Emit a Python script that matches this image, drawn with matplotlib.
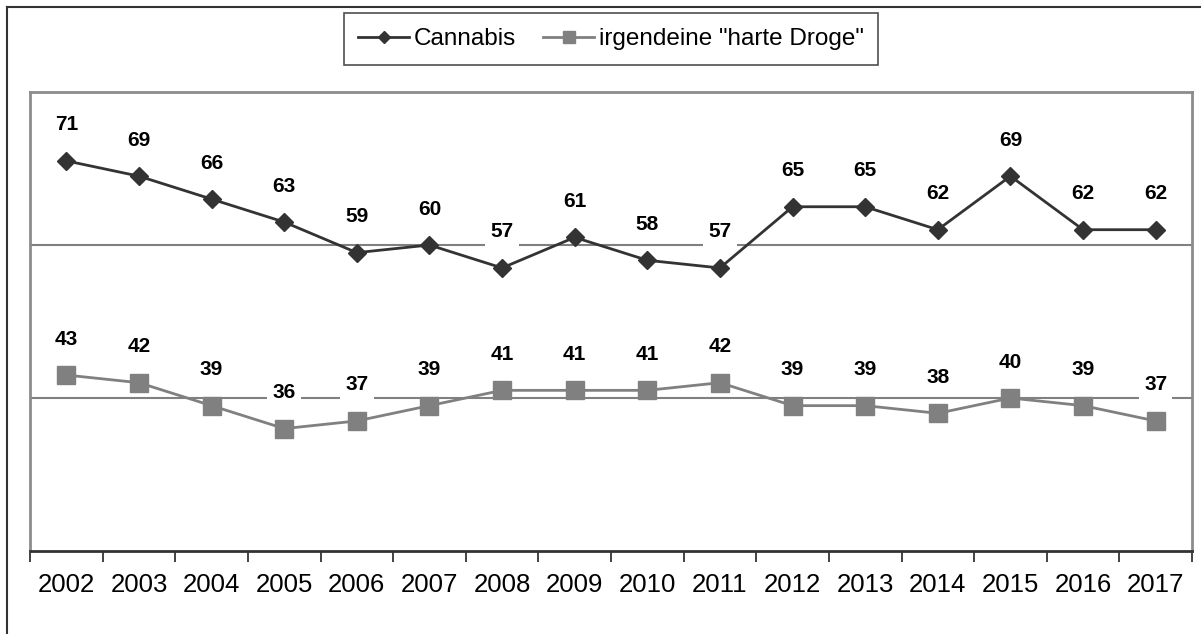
import matplotlib.pyplot as plt
from matplotlib.lines import Line2D

plt.rcParams.update({"font.family": ["Liberation Sans", "DejaVu Sans"]})

years = [str(y) for y in range(2002, 2018)]
cannabis = [71, 69, 66, 63, 59, 60, 57, 61, 58, 57, 65, 65, 62, 69, 62, 62]
harte_droge = [43, 42, 39, 36, 37, 39, 41, 41, 41, 42, 39, 39, 38, 40, 39, 37]

W, H = 1201, 634
fig = plt.figure(figsize=(W / 100, H / 100), dpi=100)
ax = fig.add_axes([30 / W, 1 - 551 / H, (1192 - 30) / W, (551 - 92) / H])

x = list(range(len(years)))

ax.plot(x, cannabis, color="#333333", linewidth=2, marker="D", markersize=9.5,
        label="Cannabis", zorder=4)
ax.plot(x, harte_droge, color="#808080", linewidth=2, marker="s", markersize=13.5,
        label='irgendeine "harte Droge"', zorder=4)

# value labels sit on white boxes that cut the gridlines
for series in (cannabis, harte_droge):
    for xi, v in zip(x, series):
        ax.annotate(str(v), (xi, v), xytext=(0, 36), textcoords="offset pixels",
                    ha="center", va="center", fontsize=15, fontweight="bold",
                    bbox=dict(boxstyle="square,pad=0.25", fc="white", ec="none"),
                    zorder=5)

ax.set_xlim(-0.5, len(years) - 0.5)
ax.set_ylim(20, 80)

for g in (40, 60):
    ax.axhline(g, color="#808080", linewidth=1.5, zorder=1)

ax.set_yticks([])
ax.set_xticks(x)
ax.set_xticklabels(years, fontsize=18.5)
ax.tick_params(axis="x", which="major", length=0, pad=16)
ax.set_xticks([i - 0.5 for i in range(len(years) + 1)], minor=True)
ax.tick_params(axis="x", which="minor", length=8, width=1.2, color="#222222",
               direction="out")

for side in ("left", "top", "right"):
    ax.spines[side].set_color("#8c8c8c")
    ax.spines[side].set_linewidth(2)
ax.spines["bottom"].set_color("#333333")
ax.spines["bottom"].set_linewidth(2)

leg = fig.legend(loc="center", bbox_to_anchor=(611 / W, 1 - 39 / H), ncol=2,
                 fontsize=17.5, frameon=True, fancybox=False, handlelength=2.1,
                 handletextpad=0.2, columnspacing=1.1, borderpad=0.6,
                 markerscale=0.65)
leg.get_frame().set_edgecolor("#222222")
leg.get_frame().set_linewidth(1.2)

# outer chart border (left and top edges only reach inside the image)
fig.add_artist(Line2D([7 / W, 7 / W], [1 - 7 / H, -0.1], color="#333333",
                      linewidth=1.5, transform=fig.transFigure))
fig.add_artist(Line2D([7 / W, 1.1], [1 - 7 / H, 1 - 7 / H], color="#333333",
                      linewidth=1.5, transform=fig.transFigure))

fig.savefig("out.png", dpi=100)
